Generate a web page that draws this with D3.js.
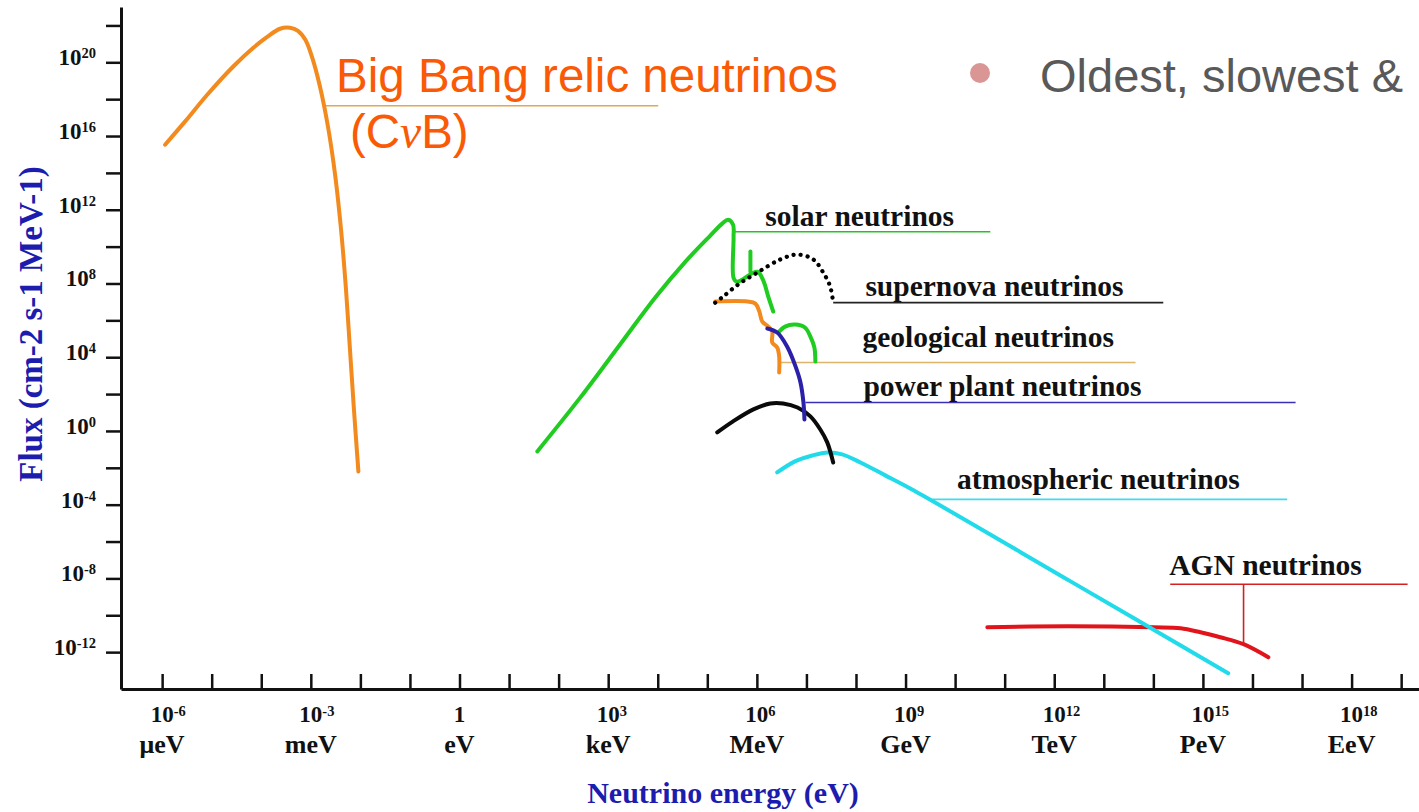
<!DOCTYPE html>
<html>
<head>
<meta charset="utf-8">
<script src="https://cdn.jsdelivr.net/npm/d3@7"></script>
<style>
  html, body { margin: 0; padding: 0; background: #ffffff; }
  svg { display: block; }
</style>
</head>
<body>
<svg id="chart" width="1419" height="812"></svg>
<script>
// Neutrino flux spectra, each point is [log10(E / eV), log10(flux)]
const bigBang = [
  [-5.94, 15.53], [-5.54, 16.78], [-5.09, 18.24], [-4.57, 19.76], [-4.16, 20.79],
  [-3.88, 21.38], [-3.62, 21.82], [-3.42, 21.87], [-3.26, 21.71], [-3.11, 21.22],
  [-2.97, 20.24], [-2.81, 18.62], [-2.65, 16.45], [-2.51, 13.90], [-2.39, 10.92],
  [-2.29, 7.67], [-2.21, 4.42], [-2.13, 1.17], [-2.04, -2.20]
];
const solarMain = [
  [1.57, -1.11], [2.44, 1.82], [3.24, 4.69], [3.95, 7.24], [4.56, 9.19],
  [5.06, 10.60], [5.30, 11.25], [5.42, 11.46], [5.52, 11.19], [5.53, 10.50],
  [5.53, 8.30], [5.59, 8.10], [5.67, 8.16], [6.01, 8.64], [6.13, 8.16],
  [6.23, 7.29], [6.33, 6.48]
];
const solarLine = [[5.87, 9.73], [5.87, 8.64]];
const solarBump = [
  [6.43, 5.34], [6.57, 5.66], [6.77, 5.77], [6.97, 5.61], [7.08, 5.12],
  [7.16, 4.53], [7.18, 3.77]
];
const supernova = [
  [5.16, 6.96], [5.32, 7.29], [5.62, 7.94], [6.01, 8.59], [6.47, 9.30],
  [6.82, 9.57], [7.14, 9.30], [7.34, 8.59], [7.48, 7.83], [7.54, 6.96]
];
const geological = [
  [5.16, 7.02], [5.81, 7.02], [5.97, 6.91], [6.05, 6.48], [6.11, 5.93],
  [6.23, 5.66], [6.31, 5.39], [6.31, 4.80], [6.41, 4.53], [6.45, 4.04], [6.45, 3.17]
];
const powerPlant = [
  [6.21, 5.56], [6.41, 5.34], [6.61, 4.58], [6.78, 3.50], [6.88, 2.63],
  [6.94, 1.54], [6.96, 0.62]
];
const terrestrial = [
  [5.20, -0.08], [5.52, 0.52], [5.93, 1.17], [6.27, 1.49], [6.53, 1.49],
  [6.82, 1.27], [7.08, 0.79], [7.28, 0.08], [7.42, -0.62], [7.54, -1.71]
];
const atmospheric = [
  [6.41, -2.25], [6.77, -1.65], [7.12, -1.33], [7.44, -1.17], [7.72, -1.27],
  [8.09, -1.71], [8.59, -2.41], [9.16, -3.22], [12.33, -8.16], [15.51, -13.14]
];
const agn = [
  [10.65, -10.65], [12.26, -10.60], [14.00, -10.65], [14.55, -10.70],
  [14.95, -10.92], [15.35, -11.19], [15.82, -11.57], [16.32, -12.28]
];

// Axis ticks and labels (decade exponents)
const xTickExps = d3.range(-6, 20);
const xLabelExps = [-6, -3, 0, 3, 6, 9, 12, 15, 18];
const xUnitLabels = ["\u03BCeV", "meV", "eV", "keV", "MeV", "GeV", "TeV", "PeV", "EeV"];
const yTickExps = d3.range(-12, 23, 2);
const yLabelExps = [-12, -8, -4, 0, 4, 8, 12, 16, 20];

// Source annotations: leader line and label, in the same log coordinates
const annotations = [
  { text: "solar neutrinos", color: "#22c422", line: [[5.56, 10.81], [10.71, 10.81]], at: [6.17, 11.14] },
  { text: "supernova neutrinos", color: "#222222", line: [[7.54, 6.96], [14.20, 6.96]], at: [8.19, 7.34] },
  { text: "geological neutrinos", color: "#dcb56a", line: [[6.47, 3.71], [13.64, 3.71]], at: [8.13, 4.53] },
  { text: "power plant neutrinos", color: "#3a30b8", line: [[6.98, 1.54], [16.87, 1.54]], at: [8.15, 1.92] },
  { text: "atmospheric neutrinos", color: "#3fdcea", line: [[9.54, -3.71], [16.70, -3.71]], at: [10.04, -3.17] },
  { text: "AGN neutrinos", color: "#d42020", line: [[14.34, -8.32], [19.13, -8.32]], at: [14.32, -7.83],
    stem: [[15.82, -8.32], [15.82, -11.57]] }
];

const svg = d3.select("#chart");
const serif = "'Liberation Serif', 'Times New Roman', serif";
const sans = "'Liberation Sans', Arial, sans-serif";

const x = d3.scaleLog().domain([10 ** -6.83, 10 ** 19.36]).range([121, 1419]);
const y = d3.scaleLog().domain([1e-14, 1e23]).range([689, 7]);
const px = e => x(10 ** e);
const py = f => y(10 ** f);

const smooth = d3.line()
  .x(d => px(d[0]))
  .y(d => py(d[1]))
  .curve(d3.curveCatmullRom.alpha(0.5));
const straight = d3.line().x(d => px(d[0])).y(d => py(d[1]));

// Axes
const gx = svg.append("g")
  .attr("transform", "translate(0,689)")
  .call(d3.axisBottom(x)
    .tickValues(xTickExps.map(e => 10 ** e))
    .tickSize(-15).tickSizeOuter(0).tickFormat(""));
const gy = svg.append("g")
  .attr("transform", "translate(121,0)")
  .call(d3.axisLeft(y)
    .tickValues(yTickExps.map(e => 10 ** e))
    .tickSize(15).tickSizeOuter(0).tickFormat(""));
[gx, gy].forEach(g => {
  g.select(".domain").attr("stroke", "#111").attr("stroke-width", 3);
  g.selectAll(".tick line").attr("stroke", "#111").attr("stroke-width", 2.5);
});

// X tick labels: power of ten above the unit name
xLabelExps.forEach((e, i) => {
  const tx = px(e);
  if (e === 0) {
    svg.append("text").attr("x", tx).attr("y", 722).attr("text-anchor", "middle")
      .attr("font-family", serif).attr("font-weight", "bold").attr("font-size", 23)
      .attr("fill", "#111").text("1");
  } else {
    const t = svg.append("text").attr("x", tx - 11.5).attr("y", 722)
      .attr("font-family", serif).attr("font-weight", "bold").attr("font-size", 23)
      .attr("fill", "#111");
    t.append("tspan").text("10");
    t.append("tspan").attr("dy", -6).attr("font-size", 14.5).text(String(e));
  }
  svg.append("text").attr("x", tx).attr("y", 753).attr("text-anchor", "middle")
    .attr("font-family", serif).attr("font-weight", "bold").attr("font-size", 26)
    .attr("fill", "#111").text(xUnitLabels[i]);
});

// Y tick labels
yLabelExps.forEach(e => {
  const t = svg.append("text").attr("x", 96).attr("y", py(e) + 3)
    .attr("text-anchor", "end")
    .attr("font-family", serif).attr("font-weight", "bold").attr("font-size", 23)
    .attr("fill", "#111");
  t.append("tspan").text("10");
  t.append("tspan").attr("dy", -7).attr("font-size", 14.5).text(String(e));
});

// Axis titles
svg.append("text")
  .attr("transform", "translate(42,324) rotate(-90)")
  .attr("text-anchor", "middle")
  .attr("font-family", serif).attr("font-weight", "bold").attr("font-size", 33)
  .attr("fill", "#1c1cae")
  .text("Flux (cm-2 s-1 MeV-1)");
svg.append("text")
  .attr("x", 723).attr("y", 803).attr("text-anchor", "middle")
  .attr("font-family", serif).attr("font-weight", "bold").attr("font-size", 30)
  .attr("fill", "#1c1cae")
  .text("Neutrino energy (eV)");

// Leader lines
svg.append("path")
  .attr("d", straight([[-2.75, 17.64], [4.01, 17.64]]))
  .attr("fill", "none").attr("stroke", "#e3a857").attr("stroke-width", 1.6);
annotations.forEach(a => {
  svg.append("path").attr("d", straight(a.line))
    .attr("fill", "none").attr("stroke", a.color).attr("stroke-width", 1.6);
  if (a.stem) {
    svg.append("path").attr("d", straight(a.stem))
      .attr("fill", "none").attr("stroke", a.color).attr("stroke-width", 1.6);
  }
});

// Spectra
const curves = [
  { data: bigBang, color: "#f28a1e" },
  { data: agn, color: "#e0141a" },
  { data: atmospheric, color: "#22dbea" },
  { data: terrestrial, color: "#0a0a0a" },
  { data: solarMain, color: "#1fcc1f" },
  { data: solarLine, color: "#1fcc1f" },
  { data: solarBump, color: "#1fcc1f" },
  { data: geological, color: "#f28a1e" },
  { data: powerPlant, color: "#2b20aa" }
];
curves.forEach(c => {
  svg.append("path").attr("d", smooth(c.data))
    .attr("fill", "none").attr("stroke", c.color).attr("stroke-width", 4)
    .attr("stroke-linejoin", "round").attr("stroke-linecap", "round");
});
svg.append("path").attr("d", smooth(supernova))
  .attr("fill", "none").attr("stroke", "#000").attr("stroke-width", 4.2)
  .attr("stroke-dasharray", "0.1 7").attr("stroke-linecap", "round");

// Source labels
annotations.forEach(a => {
  svg.append("text").attr("x", px(a.at[0])).attr("y", py(a.at[1]))
    .attr("font-family", serif).attr("font-weight", "bold").attr("font-size", 29.5)
    .attr("fill", "#111").text(a.text);
});

// Relic neutrino caption
svg.append("text").attr("x", px(-2.49)).attr("y", py(18.40))
  .attr("font-family", sans).attr("font-size", 47.5).attr("fill", "#fa5a05")
  .text("Big Bang relic neutrinos");
const cnb = svg.append("text").attr("x", px(-2.21)).attr("y", py(15.37))
  .attr("font-family", sans).attr("font-size", 47.5).attr("fill", "#fa5a05");
cnb.append("tspan").text("(C");
cnb.append("tspan").attr("font-family", serif).attr("font-style", "italic").text("\u03BD");
cnb.append("tspan").text("B)");

// Bullet note
svg.append("circle").attr("cx", 980).attr("cy", 73).attr("r", 10).attr("fill", "#da9694");
svg.append("text").attr("x", 1040).attr("y", 92)
  .attr("font-family", sans).attr("font-size", 47).attr("fill", "#595959")
  .text("Oldest, slowest &");
</script>
</body>
</html>
